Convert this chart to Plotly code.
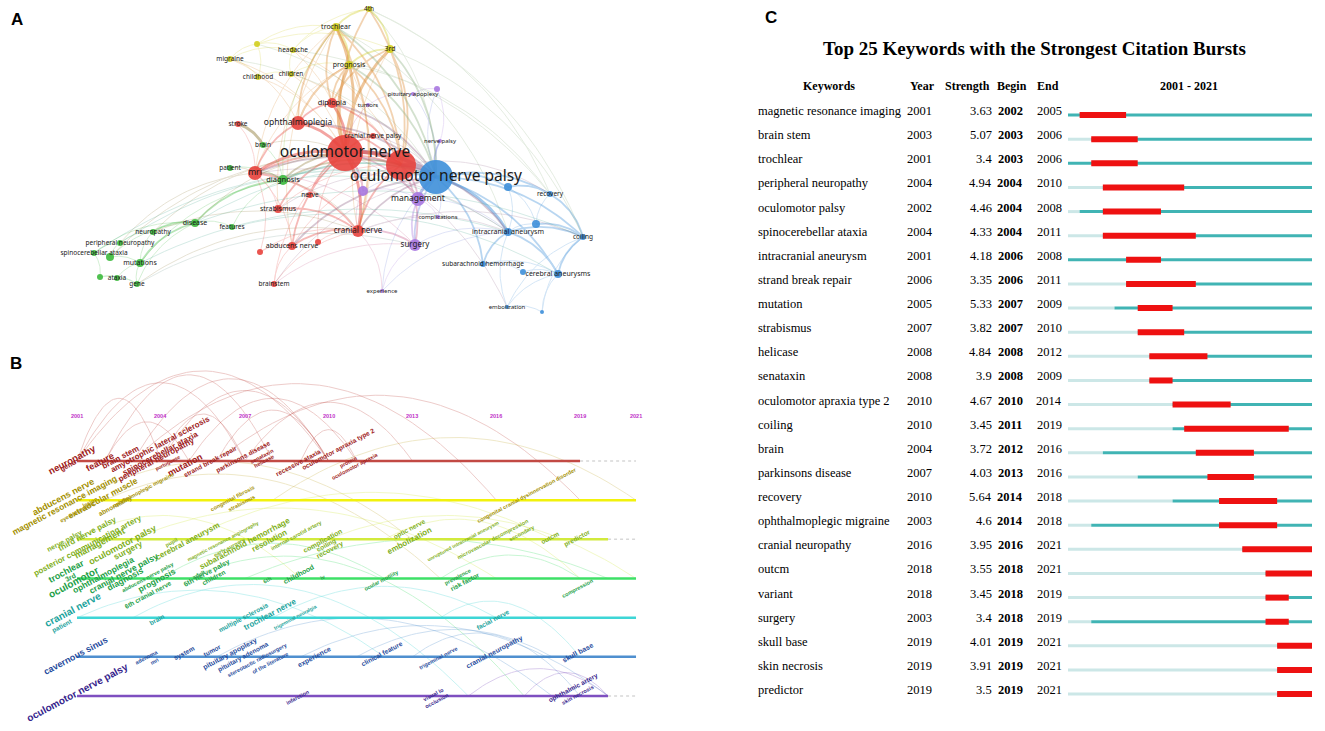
import numpy as np
import plotly.graph_objects as go

# ---------------- A: keyword co-occurrence network ----------------
node_keys = ["on", "op", "oph", "dip", "mri", "cn", "abd", "strab", "nerve", "stroke", "bs", "r1", "r2", "cnp",
             "diag", "brain", "patient", "disease", "features", "neuro", "pn", "sca", "g1", "mut", "ataxia", "gene", "g2",
             "4th", "troch", "3rd", "prog", "head", "mig", "y1", "child", "children",
             "tumors", "pa", "p1", "np", "p2", "mgmt", "comp", "surg", "exp",
             "onp", "b1", "rec", "ia", "b2", "coil", "sah", "b3", "ca", "emb", "b4"]
node_labels = ["oculomotor nerve", "", "ophthalmoplegia", "diplopia", "mri", "cranial nerve", "abducens nerve",
               "strabismus", "nerve", "stroke", "brainstem", "", "", "cranial nerve palsy",
               "diagnosis", "brain", "patient", "disease", "features", "neuropathy", "peripheral neuropathy",
               "spinocerebellar ataxia", "", "mutations", "ataxia", "gene", "",
               "4th", "trochlear", "3rd", "prognosis", "headache", "migraine", "", "childhood", "children",
               "tumors", "pituitary apoplexy", "", "nerve palsy", "", "management", "complications", "surgery", "experience",
               "oculomotor nerve palsy", "", "recovery", "intracranial aneurysm", "", "coiling",
               "subarachnoid hemorrhage", "", "cerebral aneurysms", "embolization", ""]
node_x = [345, 401, 298, 332, 255, 358, 292, 278, 310, 238, 274, 260, 318, 373,
          283, 263, 230, 195, 232, 153, 120, 94, 110, 140, 117, 137, 100,
          369, 336, 390, 349, 293, 230, 257, 258, 291,
          368, 413, 437, 440, 363, 418, 438, 415, 382,
          436, 508, 550, 508, 536, 583, 483, 523, 558, 507, 542]
node_y = [153, 165, 123, 103, 173, 231, 246, 209, 195, 124, 284, 252, 242, 136,
          180, 145, 168, 223, 227, 232, 243, 253, 257, 263, 278, 284, 277,
          9, 27, 49, 65, 50, 59, 44, 77, 74,
          105, 94, 89, 141, 191, 199, 217, 245, 291,
          177, 187, 194, 232, 224, 237, 264, 272, 274, 307, 312]
node_weight = [18, 15, 7, 5, 7, 6, 4, 4, 3, 3, 3, 3, 3, 3,
               5, 3, 3, 4, 3, 3, 3, 3, 4, 4, 3, 3, 3,
               3, 4, 4, 4, 3, 3, 3, 3, 3,
               2, 2, 3, 2, 5, 7, 2, 6, 2,
               17, 4, 3, 4, 4, 3, 3, 3, 4, 2, 2]
node_cluster = ["red"] * 14 + ["green"] * 13 + ["yellow"] * 9 + ["purple"] * 9 + ["blue"] * 11

edges = [
    ("on", "onp", 4), ("on", "op", 4), ("op", "onp", 4),
    ("on", "oph", 3), ("on", "dip", 3), ("on", "mri", 3), ("on", "cn", 3),
    ("on", "troch", 3), ("on", "3rd", 3), ("on", "prog", 3), ("on", "4th", 2),
    ("op", "troch", 2), ("op", "4th", 2), ("op", "3rd", 2), ("op", "prog", 2),
    ("op", "cn", 2), ("op", "mri", 2), ("op", "oph", 2), ("op", "dip", 2),
    ("onp", "mgmt", 3), ("onp", "surg", 2), ("onp", "ia", 3), ("onp", "rec", 2),
    ("onp", "coil", 2), ("onp", "ca", 2), ("onp", "b1", 2), ("onp", "sah", 2),
    ("onp", "cn", 2), ("onp", "troch", 2), ("onp", "3rd", 2), ("onp", "np", 2),
    ("on", "diag", 2), ("on", "strab", 2), ("on", "abd", 2), ("on", "cnp", 2), ("on", "p2", 2),
    ("mri", "diag", 2), ("oph", "dip", 2), ("troch", "4th", 2), ("troch", "prog", 2),
    ("3rd", "4th", 2), ("3rd", "prog", 2), ("prog", "dip", 2), ("prog", "oph", 2),
    ("ia", "coil", 2), ("ia", "ca", 2), ("ia", "sah", 2), ("coil", "ca", 2), ("coil", "rec", 2),
    ("b1", "rec", 2), ("b2", "coil", 2), ("b3", "ca", 1), ("emb", "ca", 1), ("emb", "b4", 1),
    ("emb", "coil", 1), ("b4", "coil", 1), ("b4", "ca", 1), ("sah", "b3", 1), ("ia", "b2", 1),
    ("b1", "b2", 1), ("b1", "ia", 1), ("rec", "b2", 1), ("sah", "ca", 1), ("emb", "ia", 1),
    ("head", "mig", 1), ("head", "y1", 1), ("mig", "y1", 1), ("y1", "child", 1), ("child", "children", 1),
    ("head", "children", 1), ("mig", "child", 1), ("head", "troch", 1), ("mig", "oph", 1),
    ("children", "prog", 1), ("child", "on", 1), ("children", "on", 1), ("y1", "troch", 1), ("head", "on", 1),
    ("mig", "on", 1), ("y1", "3rd", 1), ("head", "4th", 1),
    ("neuro", "pn", 1), ("pn", "sca", 1), ("sca", "g1", 1), ("g1", "mut", 1), ("mut", "ataxia", 1),
    ("ataxia", "gene", 1), ("gene", "mut", 1), ("g2", "sca", 1), ("g2", "ataxia", 1), ("g1", "pn", 1),
    ("neuro", "mut", 1), ("disease", "neuro", 2), ("disease", "mut", 2), ("disease", "features", 1),
    ("disease", "diag", 2), ("features", "diag", 1), ("patient", "diag", 1), ("brain", "diag", 1),
    ("disease", "on", 1), ("neuro", "on", 1), ("pn", "mri", 1), ("mut", "diag", 1), ("gene", "disease", 1),
    ("g2", "gene", 1), ("sca", "disease", 1), ("g1", "disease", 1),
    ("stroke", "brain", 3), ("stroke", "mri", 1), ("patient", "mri", 1), ("brain", "on", 1),
    ("abd", "cn", 2), ("strab", "cn", 2), ("bs", "cn", 1), ("bs", "abd", 1), ("r1", "abd", 1), ("r2", "cn", 1),
    ("nerve", "on", 2), ("strab", "mri", 1), ("abd", "mri", 1), ("r1", "mri", 1), ("bs", "on", 1),
    ("cn", "mri", 2), ("cn", "diag", 1), ("dip", "troch", 2), ("oph", "troch", 2), ("oph", "mri", 2),
    ("tumors", "pa", 1), ("pa", "p1", 1), ("p1", "np", 1), ("np", "onp", 1), ("pa", "onp", 1),
    ("mgmt", "surg", 2), ("mgmt", "comp", 1), ("comp", "onp", 1), ("surg", "cn", 2), ("surg", "exp", 1),
    ("exp", "cn", 1), ("exp", "onp", 1), ("p2", "mgmt", 1), ("p2", "on", 2), ("surg", "ia", 1),
    ("mgmt", "ia", 1), ("tumors", "on", 1), ("p1", "onp", 1), ("mgmt", "on", 2),
    ("sca", "onp", 1), ("mut", "ia", 1), ("disease", "coil", 1), ("features", "ca", 1), ("neuro", "cn", 1),
    ("pn", "onp", 1), ("gene", "surg", 1), ("disease", "onp", 1), ("g1", "on", 1), ("mig", "onp", 1),
    ("head", "rec", 1), ("4th", "rec", 1), ("3rd", "coil", 1), ("troch", "ia", 1), ("y1", "onp", 1),
    ("emb", "on", 1), ("exp", "ia", 1), ("4th", "coil", 1), ("prog", "rec", 1), ("diag", "onp", 2),
    ("mri", "onp", 2), ("gene", "cn", 1), ("bs", "onp", 1),
    ("oph", "prog", 2), ("dip", "3rd", 2), ("mri", "troch", 1), ("cn", "troch", 2), ("cn", "3rd", 1),
    ("cn", "prog", 1), ("abd", "troch", 1), ("strab", "troch", 1), ("mri", "prog", 1), ("diag", "troch", 1),
    ("op", "children", 1), ("op", "head", 1), ("op", "diag", 2), ("op", "strab", 1), ("op", "abd", 1),
    ("op", "surg", 2), ("op", "mgmt", 2), ("op", "ia", 2), ("op", "rec", 1), ("cn", "ia", 1), ("cn", "coil", 1),
    ("abd", "onp", 2), ("strab", "onp", 1), ("oph", "onp", 2), ("dip", "onp", 2), ("prog", "onp", 2),
    ("4th", "onp", 1), ("cnp", "onp", 1), ("mri", "ia", 1), ("diag", "ia", 1), ("mri", "surg", 1),
    ("p2", "onp", 1), ("p2", "cn", 1), ("bs", "surg", 1), ("r1", "cn", 1), ("r2", "on", 1),
]

# ---------------- B: timeline view ----------------
b_years_shown = [2001, 2004, 2007, 2010, 2013, 2016, 2019, 2021]
b_rows = ["red", "yellow", "yellowgreen", "green", "cyan", "blue", "purple"]
b_row_end = [2019, 2021, 2020, 2021, 2021, 2021, 2020]

b_text = ["neuropathy", "gene", "feature", "brain stem", "amyotrophic lateral sclerosis", "spinocerebellar ataxia",
          "peripheral neuropathy", "portuguese", "mutation", "strand break repair", "parkinsons disease", "senataxin",
          "helicase", "recessive ataxia", "oculomotor apraxia type 2", "protein", "oculomotor apraxia",
          "abducens nerve", "magnetic resonance imaging", "lesion", "extraocular muscle", "eye movement",
          "ophthalmoplegic migraine", "abnormality", "congenital fibrosis", "strabismus",
          "congenital cranial dysinnervation disorder",
          "nerve palsy", "third nerve palsy", "posterior communicating artery", "management", "oculomotor palsy",
          "surgery", "pupil", "cerebral aneurysm", "magnetic resonance angiography", "early surgery",
          "subarachnoid hemorrhage", "resolution", "internal carotid artery", "complication", "coiling", "recovery",
          "optic nerve", "embolization", "unruptured intracranial aneurysm", "microvascular decompression",
          "secondary", "outcm", "predictor",
          "trochlear", "3rd", "oculomotor", "ophthalmoplegia", "cranial nerve palsy", "diagnosis",
          "abducens nerve palsy", "prognosis", "6th cranial nerve", "adult", "6th nerve palsy", "children", "6th",
          "childhood", "iv", "ocular motility", "prevalence", "risk factor", "compression",
          "cranial nerve", "patient", "brain", "multiple sclerosis", "trochlear nerve", "trigeminal neuralgia",
          "facial nerve",
          "cavernous sinus", "adenoma", "mri", "system", "tumor", "pituitary apoplexy", "pituitary adenoma",
          "stereotactic radiosurgery", "of the literature", "experience", "clinical feature", "trigeminal nerve",
          "cranial neuropathy", "skull base",
          "oculomotor nerve palsy", "infarction", "visual lo<br>occlusion", "ophthalmic artery", "skin necrosis"]
b_year = [2000.82, 2000.68, 2001.82, 2002.54, 2003.97, 2003.97, 2003.86, 2004.22, 2004.86, 2005.76, 2006.94, 2007.62,
          2007.69, 2008.91, 2010.37, 2010.7, 2010.95,
          2000.5, 2000.57, 2001.47, 2001.93, 2001.0, 2003.36, 2002.36, 2006.58, 2006.9, 2017.1,
          2000.57, 2001.39, 2001.39, 2001.82, 2002.61, 2002.82, 2004.4, 2004.94, 2006.22, 2006.47, 2007.01, 2007.9,
          2008.87, 2009.8, 2009.94, 2010.05, 2012.91, 2012.91, 2014.81, 2015.88, 2016.92, 2017.92, 2018.92,
          2000.64, 2000.75, 2000.86, 2001.93, 2002.68, 2002.72, 2003.54, 2003.86, 2003.54, 2005.33, 2005.65, 2005.87,
          2007.8, 2008.91, 2009.8, 2011.91, 2014.6, 2014.88, 2018.92,
          2000.86, 2000.46, 2003.86, 2006.94, 2007.9, 2008.8, 2015.88,
          2000.93, 2003.5, 2003.79, 2004.86, 2005.83, 2006.47, 2006.94, 2007.44, 2007.9, 2009.51, 2011.91, 2013.92,
          2015.95, 2018.92,
          2001.0, 2008.91, 2013.81, 2018.75, 2018.9]
b_pos = [-0.03, 0.13, 0.03, -0.1, -0.41, -0.2, -0.03, 0.05, 0.1, 0.03, -0.1, -0.13, 0.0, 0.03, -0.3, 0.03, 0.13,
         0.92, 1.13, 1.05, 0.95, 1.3, 0.74, 1.15, 0.95, 1.08, 0.87,
         2.03, 1.85, 2.15, 2.1, 2.15, 2.26, 2.08, 2.05, 2.05, 2.2, 2.1, 2.03, 1.9, 2.03, 2.15, 2.26, 1.74, 2.03, 2.05,
         2.0, 1.85, 1.95, 1.97,
         2.82, 2.97, 3.1, 2.9, 2.85, 3.0, 2.97, 3.03, 3.41, 2.9, 2.85, 2.97, 3.03, 2.9, 2.95, 3.03, 2.95, 3.08, 3.23,
         3.8, 4.2, 4.05, 4.0, 3.92, 3.97, 4.05,
         4.97, 5.0, 5.1, 4.9, 4.85, 4.92, 5.0, 5.08, 5.15, 5.0, 4.92, 5.03, 4.87, 4.9,
         5.92, 6.03, 6.03, 5.8, 5.97]
b_weight = [9.5, 7, 9, 8, 8, 8, 8, 5, 9, 6.5, 6.5, 5.5, 5.5, 6.5, 6.5, 5.5, 5.5,
            9, 8.5, 5.5, 8.5, 5.5, 5.5, 6.5, 5.5, 5.5, 5.5,
            7, 8, 8, 9, 9, 8.5, 5.5, 8, 5, 5.5, 8, 8, 5.5, 7, 6.5, 7, 6.5, 8, 5, 5.5, 5.5, 6.5, 6.5,
            9, 7, 10, 8.5, 8.5, 8.5, 5.5, 8.5, 6.5, 5.5, 7, 6.5, 5.5, 7, 5.5, 5.5, 5.5, 6.5, 5.5,
            10, 6.5, 6.5, 6.5, 8, 5, 6.5,
            9, 5.5, 5.5, 6.5, 6.5, 7, 6.5, 5.5, 5.5, 7, 6.5, 5.5, 7, 7,
            10, 5.5, 5.5, 6.5, 5.5]
b_cluster = [0] * 17 + [1] * 10 + [2] * 23 + [3] * 19 + [4] * 7 + [5] * 14 + [6] * 5

# arcs: start year, end year, start row, end row, height (rows)
arc_from = [2001, 2001, 2002, 2003, 2004, 2001, 2004, 2005, 2007, 2003, 2006, 2008, 2002, 2006, 2009,
            2001, 2003, 2005, 2007, 2001, 2004, 2010, 2002, 2012, 2014,
            2003, 2006, 2009, 2001, 2013, 2015, 2017, 2008, 2011, 2014, 2005]
arc_to = [2004, 2007, 2008, 2010, 2010, 2010, 2007, 2011, 2013, 2016, 2019, 2021, 2005, 2010, 2011,
          2013, 2016, 2018, 2020, 2009, 2012, 2021, 2014, 2019, 2019,
          2015, 2018, 2020, 2012, 2019, 2020, 2020, 2016, 2018, 2019, 2017]
arc_row0 = [0, 0, 0, 0, 0, 0, 0, 0, 0, 0, 0, 1, 0, 0, 0,
            1, 2, 2, 3, 2, 3, 2, 1, 2, 3,
            4, 5, 5, 4, 5, 6, 6, 4, 5, 4, 3]
arc_row1 = [0, 0, 0, 0, 0, 0, 0, 0, 0, 1, 1, 1, 0, 0, 0,
            2, 3, 2, 3, 3, 3, 3, 3, 3, 3,
            6, 6, 6, 5, 6, 6, 6, 4, 5, 5, 6]
arc_height = [1.6, 2.0, 2.2, 2.1, 1.8, 2.3, 1.2, 1.6, 1.5, 2.2, 1.9, 1.6, 1.0, 1.3, 0.8,
              1.2, 1.0, 1.2, 1.0, 0.8, 0.9, 0.8, 1.0, 0.7, 0.6,
              1.2, 1.2, 1.0, 0.9, 0.8, 0.7, 0.6, 0.8, 0.7, 0.6, 1.0]

# ---------------- C: citation bursts ----------------
keywords = ["magnetic resonance imaging", "brain stem", "trochlear", "peripheral neuropathy", "oculomotor palsy",
            "spinocerebellar ataxia", "intracranial aneurysm", "strand break repair", "mutation", "strabismus",
            "helicase", "senataxin", "oculomotor apraxia type 2", "coiling", "brain", "parkinsons disease",
            "recovery", "ophthalmoplegic migraine", "cranial neuropathy", "outcm", "variant", "surgery",
            "skull base", "skin necrosis", "predictor"]
kw_year = [2001, 2003, 2001, 2004, 2002, 2004, 2001, 2006, 2005, 2007, 2008, 2008, 2010, 2010, 2004, 2007,
           2010, 2003, 2016, 2018, 2018, 2003, 2019, 2019, 2019]
kw_strength = [3.63, 5.07, 3.4, 4.94, 4.46, 4.33, 4.18, 3.35, 5.33, 3.82, 4.84, 3.9, 4.67, 3.45, 3.72, 4.03,
               5.64, 4.6, 3.95, 3.55, 3.45, 3.4, 4.01, 3.91, 3.5]
kw_begin = [2002, 2003, 2003, 2004, 2004, 2004, 2006, 2006, 2007, 2007, 2008, 2008, 2010, 2011, 2012, 2013,
            2014, 2014, 2016, 2018, 2018, 2018, 2019, 2019, 2019]
kw_end = [2005, 2006, 2006, 2010, 2008, 2011, 2008, 2011, 2009, 2010, 2012, 2009, 2014, 2019, 2016, 2016,
          2018, 2018, 2021, 2021, 2019, 2019, 2021, 2021, 2021]
first_year, last_year = 2001, 2021

# ---------------- styling ----------------
vos_colors = {"red": "#e8423d", "green": "#3dba3d", "yellow": "#d2ce1e", "purple": "#a878e0", "blue": "#3e8fd9"}
row_line_colors = ["#c24a44", "#f2f20c", "#d2ea3c", "#3ee067", "#3ed6d6", "#4f8fcf", "#7e4fc0"]
row_text_colors = ["#9e1a1a", "#a38f00", "#7faf1b", "#22a046", "#1ba39c", "#1f4b9c", "#36248c"]

W, H = 1325, 731
fig = go.Figure()


def mix(c1, c2):
    a = [int(c1[i:i + 2], 16) for i in (1, 3, 5)]
    b = [int(c2[i:i + 2], 16) for i in (1, 3, 5)]
    return "#%02x%02x%02x" % tuple((p + q) // 2 for p, q in zip(a, b))


def bezier(x0, y0, cx, cy, x1, y1, n=30):
    t = np.linspace(0, 1, n)
    xs = (1 - t) ** 2 * x0 + 2 * (1 - t) * t * cx + t ** 2 * x1
    ys = (1 - t) ** 2 * y0 + 2 * (1 - t) * t * cy + t ** 2 * y1
    return list(xs) + [None], list(ys) + [None]


def label_size(w):
    # big hub labels vs. the rest, as VOSviewer scales them
    return 15.5 if w >= 15 else 5 + 0.5 * w


# A edges, grouped by colour and weight
idx = {k: i for i, k in enumerate(node_keys)}
groups = {}
for a, b, w in edges:
    i, j = idx[a], idx[b]
    if node_x[i] > node_x[j]:
        i, j = j, i
    x0, y0, x1, y1 = node_x[i], node_y[i], node_x[j], node_y[j]
    mx, my = (x0 + x1) / 2, (y0 + y1) / 2
    cx, cy = mx + (y1 - y0) * 0.2, my - (x1 - x0) * 0.2
    xs, ys = bezier(x0, y0, cx, cy, x1, y1)
    col = mix(vos_colors[node_cluster[i]], vos_colors[node_cluster[j]])
    g = groups.setdefault((col, w), [[], []])
    g[0] += xs
    g[1] += ys

edge_width = {1: 0.9, 2: 1.8, 3: 2.8, 4: 3.8}
edge_alpha = {1: 0.24, 2: 0.36, 3: 0.48, 4: 0.55}
for (col, w), (xs, ys) in groups.items():
    fig.add_trace(go.Scatter(x=xs, y=ys, mode="lines", line=dict(color=col, width=edge_width[w]),
                             opacity=edge_alpha[w], hoverinfo="skip", showlegend=False,
                             xaxis="x", yaxis="y"))

fig.add_trace(go.Scatter(x=node_x, y=node_y, mode="markers",
                         marker=dict(size=[2 * w for w in node_weight],
                                     color=[vos_colors[c] for c in node_cluster], opacity=0.9,
                                     line=dict(width=0)),
                         hoverinfo="skip", showlegend=False, xaxis="x", yaxis="y"))
fig.add_trace(go.Scatter(x=node_x, y=node_y, mode="text", text=node_labels, textposition="middle center",
                         textfont=dict(family="Noto Sans", color="#1a1a1a",
                                       size=[label_size(w) for w in node_weight]),
                         hoverinfo="skip", showlegend=False, xaxis="x", yaxis="y"))

# B arcs
for k in range(len(arc_from)):
    x0, x1 = arc_from[k], arc_to[k]
    y0, y1 = arc_row0[k], arc_row1[k]
    cy = min(y0, y1) - 2 * arc_height[k]
    xs, ys = bezier(x0, y0, (x0 + x1) / 2, cy, x1, y1, 40)
    fig.add_trace(go.Scatter(x=xs, y=ys, mode="lines",
                             line=dict(color=row_line_colors[y0] if y0 != 1 else "#c8b040", width=1),
                             opacity=0.28, hoverinfo="skip", showlegend=False, xaxis="x2", yaxis="y2"))

# B cluster lines
for r, end in enumerate(b_row_end):
    fig.add_trace(go.Scatter(x=[first_year, end], y=[r, r], mode="lines",
                             line=dict(color=row_line_colors[r], width=2.5),
                             hoverinfo="skip", showlegend=False, xaxis="x2", yaxis="y2"))
    if end < last_year:
        fig.add_trace(go.Scatter(x=[end, last_year], y=[r, r], mode="lines",
                                 line=dict(color="#d8d8d8", width=1.5, dash="dot"),
                                 hoverinfo="skip", showlegend=False, xaxis="x2", yaxis="y2"))

annotations = []
for yr in b_years_shown:
    annotations.append(dict(x=yr, y=-1.15, xref="x2", yref="y2", text=str(yr), showarrow=False,
                            xanchor="center", yanchor="middle",
                            font=dict(family="Liberation Sans", size=5.5, color="#c030c8", weight="bold")))
for t, yr, p, s, c in zip(b_text, b_year, b_pos, b_weight, b_cluster):
    annotations.append(dict(x=yr, y=p, xref="x2", yref="y2", text=t, showarrow=False, textangle=-28,
                            xanchor="center", yanchor="middle",
                            font=dict(family="Liberation Sans", size=s, color=row_text_colors[c], weight="bold")))

# C bars
light_x, light_y, teal_x, teal_y, red_x, red_y = [], [], [], [], [], []
for i in range(len(keywords)):
    yy = i + 0.17
    if kw_year[i] > first_year:
        light_x += [first_year, kw_year[i], None]
        light_y += [yy, yy, None]
    teal_x += [kw_year[i], last_year + 1, None]
    teal_y += [yy, yy, None]
    red_x += [kw_begin[i], kw_end[i] + 1, None]
    red_y += [yy, yy, None]
fig.add_trace(go.Scatter(x=light_x, y=light_y, mode="lines", line=dict(color="#cce7e7", width=3),
                         hoverinfo="skip", showlegend=False, xaxis="x3", yaxis="y3"))
fig.add_trace(go.Scatter(x=teal_x, y=teal_y, mode="lines", line=dict(color="#40b4b4", width=3),
                         hoverinfo="skip", showlegend=False, xaxis="x3", yaxis="y3"))
fig.add_trace(go.Scatter(x=red_x, y=red_y, mode="lines", line=dict(color="#ee1111", width=6),
                         hoverinfo="skip", showlegend=False, xaxis="x3", yaxis="y3"))

serif = "Liberation Serif"
annotations.append(dict(x=1034 / W, y=1 - 48 / H, xref="paper", yref="paper", xanchor="center", yanchor="middle",
                        text="<b>Top 25 Keywords with the Strongest Citation Bursts</b>", showarrow=False,
                        font=dict(family=serif, size=19, color="black")))
header = [("Keywords", 829), ("Year", 922), ("Strength", 967), ("Begin", 1012), ("End", 1048), ("2001 - 2021", 1189)]
for txt, px in header:
    annotations.append(dict(x=px / W, y=-1.04, xref="paper", yref="y3", text="<b>%s</b>" % txt, showarrow=False,
                            xanchor="center", yanchor="middle",
                            font=dict(family=serif, size=12, color="black")))
for i in range(len(keywords)):
    cells = [(keywords[i], 757, "left"), (str(kw_year[i]), 920, "center"), (str(kw_strength[i]), 993, "right"),
             ("<b>%d</b>" % kw_begin[i], 1010, "center"), (str(kw_end[i]), 1049, "center")]
    for txt, px, anc in cells:
        annotations.append(dict(x=px / W, y=i, xref="paper", yref="y3", text=txt, showarrow=False,
                                xanchor=anc, yanchor="middle", borderpad=0,
                                font=dict(family=serif, size=12.5, color="black")))

for letter, px, py in [("A", 17, 20), ("B", 16, 363), ("C", 771, 18)]:
    annotations.append(dict(x=px / W, y=1 - py / H, xref="paper", yref="paper", text="<b>%s</b>" % letter,
                            xanchor="center", yanchor="middle",
                            showarrow=False, font=dict(family="Liberation Sans", size=17, color="black")))

hidden = dict(visible=False, showgrid=False, zeroline=False)
fig.update_layout(
    width=W, height=H, autosize=False, margin=dict(l=0, r=0, t=0, b=0),
    paper_bgcolor="white", plot_bgcolor="white",
    xaxis=dict(domain=[0, 650 / W], range=[0, 650], **hidden),
    yaxis=dict(domain=[1 - 330 / H, 1], range=[330, 0], **hidden),
    xaxis2=dict(domain=[0, 650 / W], range=[1998.245, 2021.5], anchor="y2", **hidden),
    yaxis2=dict(domain=[0, 391 / H], range=[6.893, -3.089], anchor="x2", **hidden),
    xaxis3=dict(domain=[650 / W, 1], range=[1965.025, 2023.119], anchor="y3", **hidden),
    yaxis3=dict(domain=[0, 1], range=[25.699, -4.601], anchor="x3", **hidden),
    annotations=annotations,
)

fig.write_html("out.html", config={"displayModeBar": False},
               post_script="document.body.style.margin='0px';")
